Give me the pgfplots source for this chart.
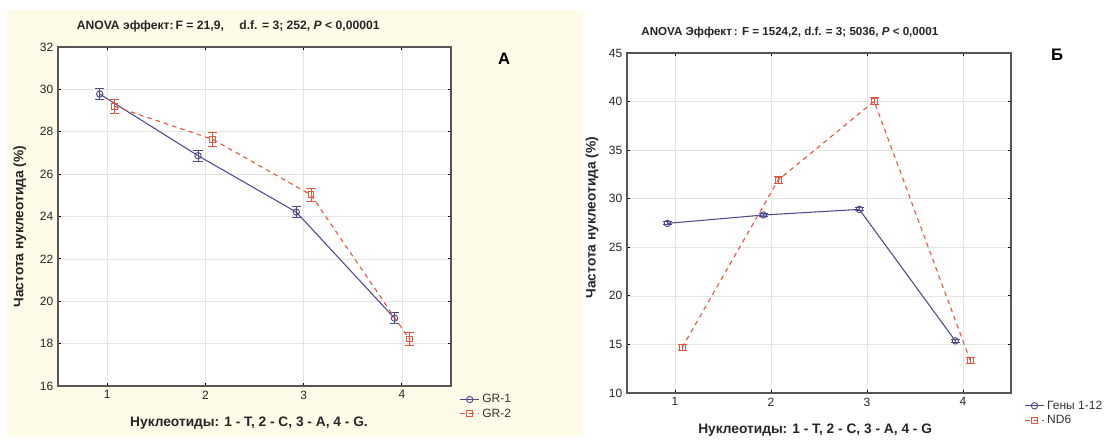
\documentclass[border=0pt]{standalone}
\usepackage{fontspec}
\setmainfont{Liberation Sans}
\usepackage{pgfplots}
\pgfplotsset{compat=1.18}
\definecolor{cream}{HTML}{FEFBE8}
\definecolor{cpurple}{HTML}{4F4A8C}
\definecolor{cred}{HTML}{E8553C}
\definecolor{cgrid}{HTML}{E4E4E4}
\definecolor{caxis}{HTML}{555555}
\pgfplotsset{
  panel/.style={
    scale only axis,
    xmin=0.5, xmax=4.5,
    xtick={1,2,3,4},
    axis line style={caxis, line width=1.1pt},
    grid=major,
    major grid style={cgrid, line width=0.5pt},
    tick style={black, line width=0.6pt},
    major tick length=2pt,
    tick align=inside,
    /pgf/number format/assume math mode=true,
    tick label style={font=\fontsize{9}{10}\selectfont, text=black!85},
    label style={font=\fontsize{10.3}{12}\selectfont\bfseries, text=black!85},
    legend style={draw=none, fill=none, font=\fontsize{9}{10}\selectfont, text=black!80,
      row sep=-1pt, inner sep=1pt, legend cell align=left},
    legend image code/.code={
      \draw[mark repeat=2,mark phase=2,##1] plot coordinates {(0cm,0cm) (0.25cm,0cm) (0.5cm,0cm)};},
    clip=false,
  },
  s1/.style={color=cpurple, line width=0.8pt, mark=o, mark size=2.4pt,
    mark options={solid, line width=0.7pt, fill=white},
    error bars/.cd, y dir=both, y explicit,
    error bar style={line width=0.7pt, cpurple},
    error mark options={rotate=90, mark size=3.4pt, line width=0.7pt, cpurple}},
  s2/.style={color=cred, line width=0.8pt, dashed, dash pattern=on 3.5pt off 3pt, mark=square, mark size=2.2pt,
    mark options={solid, line width=0.7pt, fill=white},
    error bars/.cd, y dir=both, y explicit,
    error bar style={line width=0.7pt, solid, cred},
    error mark options={rotate=90, mark size=3.4pt, line width=0.7pt, solid, cred}},
}
\begin{document}
\begin{tikzpicture}
\path[use as bounding box] (0,0) rectangle (837.75pt,330.75pt);
\fill[white] (0,0) rectangle (837.75pt,330.75pt);
\fill[cream] (5.25pt,3pt) rectangle (437.25pt,323.25pt);

% ---------- Panel A ----------
\begin{axis}[panel,
  at={(43.5pt,41.25pt)}, anchor=south west,
  width=294.75pt, height=254.25pt,
  ymin=16, ymax=32, ytick={16,18,20,22,24,26,28,30,32},
  axis background/.style={fill=white},
  xlabel={Нуклеотиды: 1 - T, 2 - C, 3 - A, 4 - G.},
  ylabel={Частота нуклеотида (\%)},
  xlabel style={at={(axis description cs:0.486,-0.109)}, anchor=center},
  ylabel style={at={(axis description cs:-0.097,0.47)}, anchor=center},
  legend style={at={(axis description cs:1.018,-0.012)}, anchor=north west},
]
\addplot+[s1] coordinates {
  (0.925,29.78) +- (0,0.25)
  (1.925,26.87) +- (0,0.25)
  (2.925,24.21) +- (0,0.25)
  (3.925,19.20) +- (0,0.25)
};
\addlegendentry{GR-1}
\addplot+[s2] coordinates {
  (1.075,29.20) +- (0,0.32)
  (2.075,27.64) +- (0,0.32)
  (3.075,25.02) +- (0,0.32)
  (4.075,18.22) +- (0,0.32)
};
\addlegendentry{GR-2}
\node[font=\fontsize{9.1}{10}\selectfont\bfseries, text=black!85] at (axis description cs:0.433,1.062)
  {ANOVA эффект:\,F = 21,9,\quad\ d.f. = 3; 252, \textit{P} < 0,00001};
\node[font=\fontsize{12.5}{14}\selectfont\bfseries] at (axis description cs:1.135,0.965) {А};
\end{axis}

% ---------- Panel B ----------
\begin{axis}[panel,
  at={(470.25pt,36pt)}, anchor=south west,
  width=288pt, height=255pt,
  ymin=10, ymax=45, ytick={10,15,20,25,30,35,40,45},
  xlabel={Нуклеотиды: 1 - T, 2 - C, 3 - A, 4 - G},
  ylabel={Частота нуклеотида (\%)},
  xlabel style={at={(axis description cs:0.49,-0.109)}, anchor=center},
  ylabel style={at={(axis description cs:-0.091,0.516)}, anchor=center},
  legend style={at={(axis description cs:1.031,-0.01)}, anchor=north west},
]
\addplot+[s1] coordinates {
  (0.92,27.46) +- (0,0.15)
  (1.92,28.32) +- (0,0.15)
  (2.92,28.90) +- (0,0.15)
  (3.92,15.37) +- (0,0.15)
};
\addlegendentry{Гены 1-12}
\addplot+[s2] coordinates {
  (1.075,14.69) +- (0,0.35)
  (2.075,31.92) +- (0,0.35)
  (3.075,40.03) +- (0,0.35)
  (4.075,13.35) +- (0,0.35)
};
\addlegendentry{ND6}
\node[font=\fontsize{8.7}{10}\selectfont\bfseries, text=black!85] at (axis description cs:0.424,1.059)
  {ANOVA Эффект\,: F = 1524,2, d.f. = 3; 5036, \textit{P} < 0,0001};
\node[font=\fontsize{12.5}{14}\selectfont\bfseries] at (axis description cs:1.12,0.994) {Б};
\end{axis}
\end{tikzpicture}
\end{document}
